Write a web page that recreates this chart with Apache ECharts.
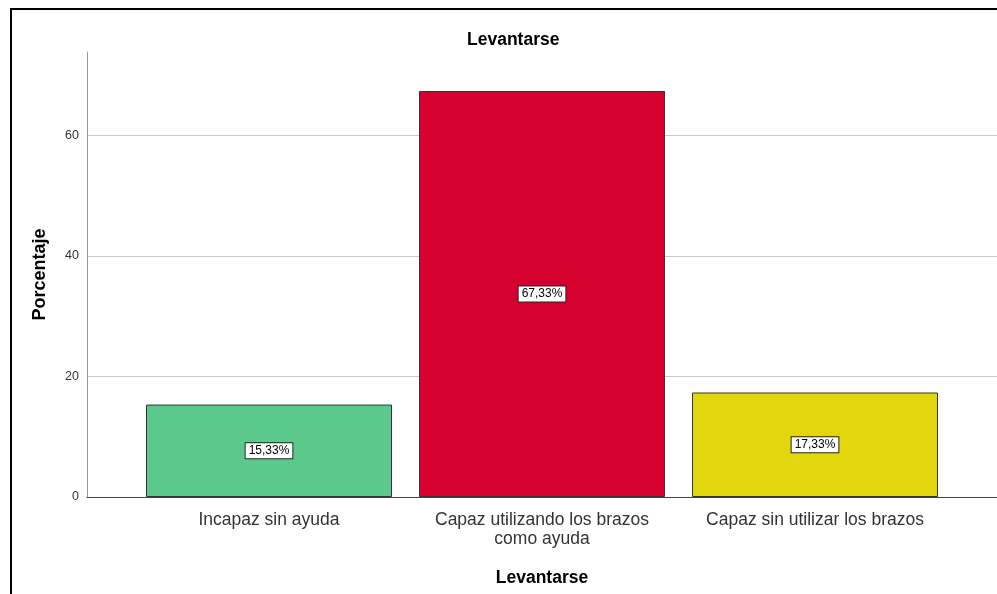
<!DOCTYPE html>
<html>
<head>
<meta charset="utf-8">
<script src="https://cdn.jsdelivr.net/npm/echarts@6/dist/echarts.min.js"></script>
<style>
  html, body { margin: 0; padding: 0; background: #fff; }
  #chart { width: 997px; height: 594px; }
</style>
</head>
<body>
<div id="chart"></div>
<script>
// Levantarse: share of respondents by ability to stand up
const categories = ['Incapaz sin ayuda', 'Capaz utilizando los brazos\ncomo ayuda', 'Capaz sin utilizar los brazos'];
const percentages = [15.33, 67.33, 17.33];
const barColors = ['#5bc98a', '#d6002f', '#e2d60c'];
const yTicks = [0, 20, 40, 60];

const yMax = 73.8;
const font = 'Arial, "Liberation Sans", sans-serif';

const chart = echarts.init(document.getElementById('chart'), null, { renderer: 'canvas' });

chart.setOption({
  backgroundColor: '#ffffff',
  animation: false,
  title: {
    text: 'Levantarse',
    left: 462,
    top: 26,
    textStyle: { fontFamily: font, fontSize: 17.5, fontWeight: 'bold', color: '#000' }
  },
  graphic: [{
    type: 'rect',
    shape: { x: 11, y: 9, width: 1000, height: 600 },
    style: { fill: 'none', stroke: '#000', lineWidth: 2 },
    silent: true,
    z: 100
  }],
  grid: [
    // frame grid: value scale, gridlines and axis lines
    { left: 87, top: 52, right: 0, bottom: 97, containLabel: false },
    // bar grid: the three category bands
    { left: 132.5, top: 52, right: 45.5, bottom: 97, containLabel: false }
  ],
  xAxis: [
    {
      type: 'value', gridIndex: 0, min: 0, max: 1,
      axisLine: { show: true, lineStyle: { color: '#444', width: 1 } },
      axisTick: { show: false }, axisLabel: { show: false }, splitLine: { show: false }
    },
    {
      type: 'category', gridIndex: 1, data: categories,
      axisLine: { show: false }, axisTick: { show: false },
      axisLabel: {
        fontFamily: font, fontSize: 17.5, color: '#333', margin: 14, lineHeight: 19,
        interval: 0
      },
      name: 'Levantarse', nameLocation: 'middle', nameGap: 72,
      nameTextStyle: { fontFamily: font, fontSize: 17.5, fontWeight: 'bold', color: '#000' }
    }
  ],
  yAxis: [
    {
      type: 'value', gridIndex: 0, min: 0, max: yMax, interval: 20,
      axisLine: { show: true, lineStyle: { color: '#999', width: 1 } },
      axisTick: { show: false },
      axisLabel: {
        fontFamily: font, fontSize: 12.5, color: '#333', margin: 8,
        formatter: v => (yTicks.includes(v) ? String(v) : '')
      },
      splitLine: { show: true, showMaxLine: false, lineStyle: { color: '#c8c8c8', width: 1 } },
      name: 'Porcentaje', nameLocation: 'middle', nameGap: 38, nameRotate: 90,
      nameTextStyle: { fontFamily: font, fontSize: 18, fontWeight: 'bold', color: '#000' }
    },
    {
      type: 'value', gridIndex: 1, min: 0, max: yMax, show: false
    }
  ],
  series: [{
    type: 'bar',
    xAxisIndex: 1,
    yAxisIndex: 1,
    barCategoryGap: '9.9%',
    data: percentages.map((v, i) => ({
      value: v,
      itemStyle: { color: barColors[i] }
    })),
    itemStyle: { borderColor: '#333', borderWidth: 1 },
    label: {
      show: true,
      position: 'inside',
      formatter: p => p.value.toFixed(2).replace('.', ',') + '%',
      fontFamily: font, fontSize: 12, color: '#000',
      backgroundColor: '#fff', borderColor: '#222', borderWidth: 1,
      padding: [2, 3, 1, 3]
    }
  }]
});
</script>
</body>
</html>
